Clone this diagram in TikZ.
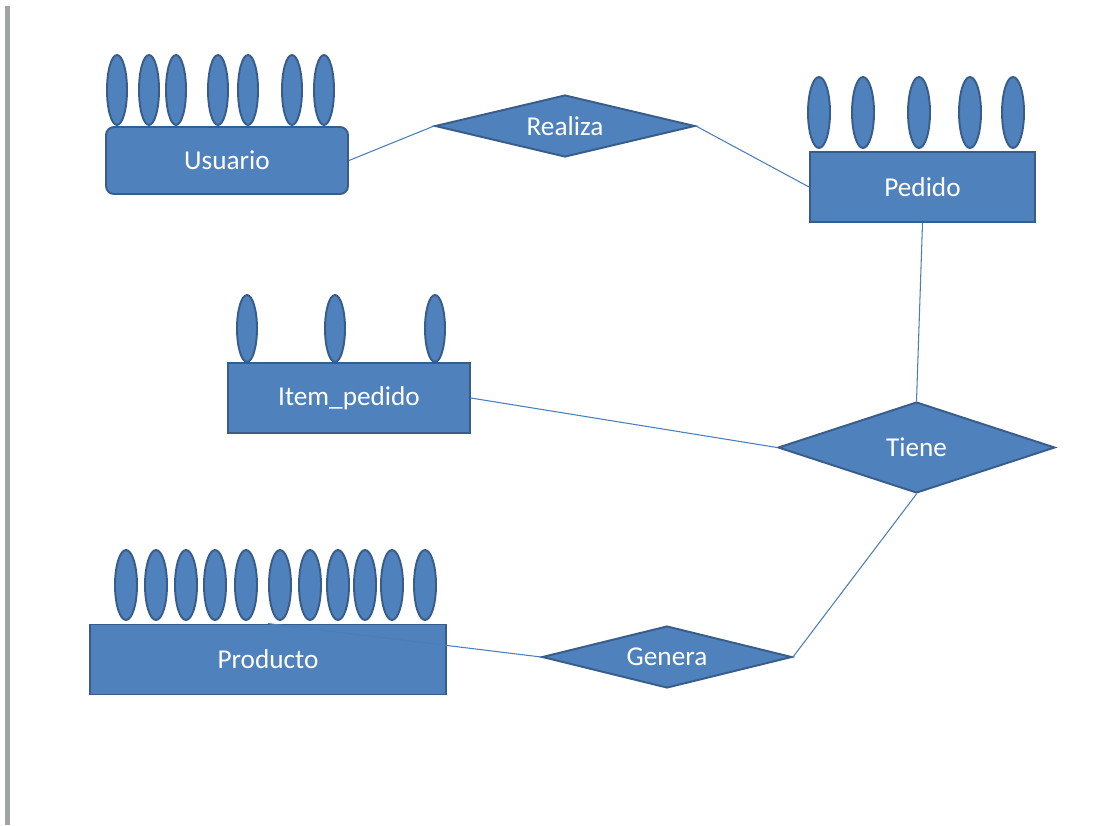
\documentclass[tikz,border=0pt]{standalone}
\usepackage{fontspec}
\setmainfont{Carlito}
\usetikzlibrary{shapes.geometric}
\definecolor{erfill}{RGB}{79,129,189}
\definecolor{erline}{RGB}{56,93,138}
\definecolor{erlink}{RGB}{74,126,187}
\definecolor{erbar}{RGB}{160,163,168}
\tikzset{
	entidad/.style={draw=erline, line width=1.1pt, fill=erfill, text=white, inner sep=0pt, font=\fontsize{15.5}{18}\selectfont},
	relacion/.style={entidad, diamond},
	atributo/.style={draw=erline, line width=1.1pt, fill=erfill},
	enlace/.style={draw=erlink, line width=0.6pt}
}

\begin{document}
\begin{tikzpicture}[x=0.02cm, y=-0.02cm]
				%%%%% START %%%%%
				\useasboundingbox (0, 0) rectangle (1101, 825);
				\fill[erbar] (5, 6) rectangle (10, 825);
				
				% entidades
				\node[entidad, rounded corners=0.16cm, minimum width=4.84cm, minimum height=1.34cm] (usuario) at (227, 160.5) {Usuario};
				\node[entidad, minimum width=4.5cm, minimum height=1.4cm] (pedido) at (922.5, 187) {Pedido};
				\node[entidad, minimum width=4.84cm, minimum height=1.4cm] (item) at (349, 398) {Item\_pedido};
				\node[entidad, minimum width=7.12cm, minimum height=1.4cm] (producto) at (268, 659.5) {Producto};
				
				% relaciones
				\node[relacion, aspect=4.2, minimum width=5.2cm, minimum height=1.24cm] (realiza) at (565, 126) {Realiza};
				\node[relacion, aspect=3.04, minimum width=5.54cm, minimum height=1.82cm] (tiene) at (916.5, 447.5) {Tiene};
				\node[relacion, aspect=4.03, minimum width=5cm, minimum height=1.24cm] (genera) at (667, 657) {Genera};
				
				% atributos
				\foreach \x in {117, 149, 176, 218, 248, 292, 324}
					\draw[atributo] (\x, 90) ellipse (0.2cm and 0.7cm);
				\foreach \x in {819, 863, 919, 970, 1013}
					\draw[atributo] (\x, 112.5) ellipse (0.22cm and 0.71cm);
				\foreach \x in {247, 335, 435}
					\draw[atributo] (\x, 328.5) ellipse (0.2cm and 0.67cm);
				\foreach \x in {126, 156, 186, 215, 246, 280, 310, 338, 365, 392, 425}
					\draw[atributo] (\x, 585) ellipse (0.22cm and 0.7cm);
				
				% enlaces
				\draw[enlace] (usuario.east) -- (realiza.west);
				\draw[enlace] (realiza.east) -- (pedido.west);
				\draw[enlace] (pedido.south) -- (tiene.north);
				\draw[enlace] (item.east) -- (tiene.west);
				\draw[enlace] (tiene.south) -- (genera.east);
				\draw[enlace] (producto.north) -- (genera.west);
				%%%%% END %%%%%
\end{tikzpicture}
\end{document}
